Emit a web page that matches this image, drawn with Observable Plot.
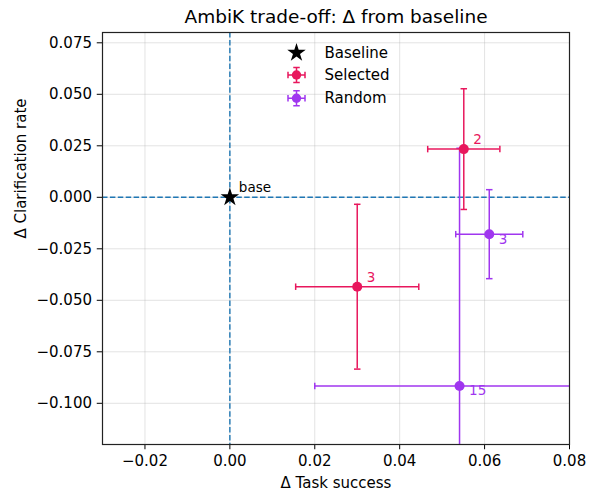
<!DOCTYPE html>
<html>
<head>
<meta charset="utf-8">
<script src="https://cdn.jsdelivr.net/npm/d3@7"></script>
<script src="https://cdn.jsdelivr.net/npm/@observablehq/plot@0.6"></script>
<style>
  html, body { margin: 0; padding: 0; background: white; }
</style>
</head>
<body>
<div id="chart"></div>
<script>
// ---- data ----
const titleText = "AmbiK trade-off: Δ from baseline";
const xLabel = "Δ Task success";
const yLabel = "Δ Clarification rate";

const xDomain = [-0.03, 0.08];
const yDomain = [-0.12, 0.08];
const xTicks = [-0.02, 0, 0.02, 0.04, 0.06, 0.08];
const yTicks = [-0.1, -0.075, -0.05, -0.025, 0, 0.025, 0.05, 0.075];

const baselineX = [0];
const baselineY = [0];
const baselineLabel = ["base"];

const groups = ["Selected", "Selected", "Random", "Random"];
const dTask = [0.0551, 0.0300, 0.0611, 0.0541];
const dClar = [0.0234, -0.0434, -0.0179, -0.0916];
const errTask = [0.0085, 0.0145, 0.0079, 0.0341];
const errClar = [0.0293, 0.0400, 0.0216, 0.1154];
const pointLabels = ["2", "3", "3", "15"];

const legendNames = ["Baseline", "Selected", "Random"];
const colors = { Selected: "#e8175d", Random: "#a036ef" };

// ---- build table ----
const pts = groups.map((g, i) => ({
  group: g, x: dTask[i], y: dClar[i],
  xlo: dTask[i] - errTask[i], xhi: dTask[i] + errTask[i],
  ylo: dClar[i] - errClar[i], yhi: dClar[i] + errClar[i],
  label: pointLabels[i]
}));
const base = baselineX.map((x, i) => ({ x, y: baselineY[i], label: baselineLabel[i] }));
const col = d => colors[d.group];

// custom symbols
const CAP = 3.25;
const hCap = { draw(ctx) { ctx.moveTo(-CAP, 0); ctx.lineTo(CAP, 0); } };
const vCap = { draw(ctx) { ctx.moveTo(0, -CAP); ctx.lineTo(0, CAP); } };
const legendCross = { draw(ctx) {
  const h = 8.5, v = 7.5, c = 3.25;
  ctx.moveTo(-h, 0); ctx.lineTo(h, 0);
  ctx.moveTo(-h, -c); ctx.lineTo(-h, c);
  ctx.moveTo(h, -c); ctx.lineTo(h, c);
  ctx.moveTo(0, -v); ctx.lineTo(0, v);
  ctx.moveTo(-c, -v); ctx.lineTo(c, -v);
  ctx.moveTo(-c, v); ctx.lineTo(c, v);
} };

const EW = 1.5;
const errMarks = g => {
  const data = pts.filter(d => d.group === g);
  return [
    Plot.ruleY(data, { y: "y", x1: "xlo", x2: "xhi", stroke: col, strokeWidth: EW, clip: true }),
    Plot.ruleX(data, { x: "x", y1: "ylo", y2: "yhi", stroke: col, strokeWidth: EW, clip: true }),
    Plot.dot(data, { x: "xlo", y: "y", symbol: vCap, fill: "none", stroke: col, strokeWidth: EW, clip: true }),
    Plot.dot(data, { x: "xhi", y: "y", symbol: vCap, fill: "none", stroke: col, strokeWidth: EW, clip: true }),
    Plot.dot(data, { x: "x", y: "ylo", symbol: hCap, fill: "none", stroke: col, strokeWidth: EW, clip: true }),
    Plot.dot(data, { x: "x", y: "yhi", symbol: hCap, fill: "none", stroke: col, strokeWidth: EW, clip: true })
  ];
};

const LX = 194, LTX = 222, LY = [20.3, 42.5, 65.7];

const chart = Plot.plot({
  width: 594,
  height: 493,
  marginLeft: 102,
  marginRight: 25,
  marginTop: 32,
  marginBottom: 49,
  style: { fontFamily: "DejaVu Sans", fontSize: "15px", background: "white", color: "black", overflow: "visible" },
  x: { domain: xDomain, ticks: xTicks, tickFormat: d3.format(".2f"), tickSize: 5.25, tickPadding: 6, label: null },
  y: { domain: yDomain, ticks: yTicks, tickFormat: d3.format(".3f"), tickSize: 5.25, tickPadding: 5.25, label: null },
  marks: [
    // grid
    Plot.ruleX(xTicks, { stroke: "#b0b0b0", strokeOpacity: 0.35, strokeWidth: 1 }),
    Plot.ruleY(yTicks, { stroke: "#b0b0b0", strokeOpacity: 0.35, strokeWidth: 1 }),
    // reference dashed lines
    Plot.ruleX(baselineX, { stroke: "#1f77b4", strokeWidth: 1.4, strokeDasharray: "5.5,2.4" }),
    Plot.ruleY(baselineY, { stroke: "#1f77b4", strokeWidth: 1.4, strokeDasharray: "5.5,2.4" }),
    // error bars
    ...errMarks("Random"),
    ...errMarks("Selected"),
    // points
    Plot.dot(pts.filter(d => d.group === "Random"), { x: "x", y: "y", r: 5, fill: col, stroke: "none", clip: true }),
    Plot.dot(pts.filter(d => d.group === "Selected"), { x: "x", y: "y", r: 5, fill: col, stroke: "none", clip: true }),
    Plot.dot(base, { x: "x", y: "y", symbol: "star", r: 5.8, fill: "black", stroke: "none" }),
    // annotations
    Plot.text(base, { x: "x", y: "y", text: "label", dx: 9, dy: -9.5, textAnchor: "start", fontSize: 13.5, fill: "black" }),
    Plot.text(pts.filter(d => d.group === "Selected"), { x: "x", y: "y", text: "label", dx: 9.5, dy: -9, textAnchor: "start", fontSize: 13.5, fill: col }),
    Plot.text(pts.filter(d => d.group === "Random"), { x: "x", y: "y", text: "label", dx: 9.5, dy: 5, textAnchor: "start", fontSize: 13.5, fill: col }),
    // legend
    Plot.dot([legendNames[0]], { frameAnchor: "top-left", dx: LX, dy: LY[0], symbol: "star", r: 5.8, fill: "black", stroke: "none" }),
    Plot.dot([legendNames[1]], { frameAnchor: "top-left", dx: LX, dy: LY[1], symbol: legendCross, fill: "none", stroke: colors.Selected, strokeWidth: EW }),
    Plot.dot([legendNames[1]], { frameAnchor: "top-left", dx: LX, dy: LY[1], r: 4.7, fill: colors.Selected, stroke: "none" }),
    Plot.dot([legendNames[2]], { frameAnchor: "top-left", dx: LX, dy: LY[2], symbol: legendCross, fill: "none", stroke: colors.Random, strokeWidth: EW }),
    Plot.dot([legendNames[2]], { frameAnchor: "top-left", dx: LX, dy: LY[2], r: 4.7, fill: colors.Random, stroke: "none" }),
    Plot.text([legendNames[0]], { text: d => d, frameAnchor: "top-left", dx: LTX, dy: LY[0], textAnchor: "start", lineAnchor: "middle", fontSize: 15, fill: "black" }),
    Plot.text([legendNames[1]], { text: d => d, frameAnchor: "top-left", dx: LTX, dy: LY[1], textAnchor: "start", lineAnchor: "middle", fontSize: 15, fill: "black" }),
    Plot.text([legendNames[2]], { text: d => d, frameAnchor: "top-left", dx: LTX, dy: LY[2], textAnchor: "start", lineAnchor: "middle", fontSize: 15, fill: "black" }),
    // title and axis labels
    Plot.text([titleText], { text: d => d, frameAnchor: "top", dy: -15, lineAnchor: "middle", fontSize: 18.5, fill: "black" }),
    Plot.text([xLabel], { text: d => d, frameAnchor: "bottom", dy: 39, lineAnchor: "middle", fontSize: 15, fill: "black" }),
    Plot.text([yLabel], { text: d => d, frameAnchor: "left", dx: -81, rotate: -90, lineAnchor: "middle", fontSize: 15, fill: "black" }),
    // frame
    Plot.frame({ stroke: "#222", strokeWidth: 1.2 })
  ]
});
document.getElementById("chart").appendChild(chart);
</script>
</body>
</html>
